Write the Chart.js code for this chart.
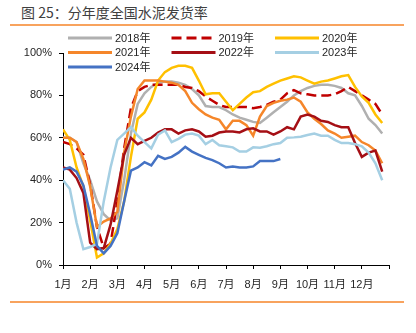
<!DOCTYPE html>
<html>
<head>
<meta charset="utf-8">
<script src="https://cdn.jsdelivr.net/npm/chart.js@4"></script>
<style>
  html, body { margin: 0; padding: 0; background: #fff; }
  #wrap { position: relative; width: 416px; height: 333px; }
  #title { position: absolute; left: 21px; top: 3px; font: 14px "Noto Sans CJK SC", sans-serif; color: #404040; line-height: 18px; white-space: nowrap; }
  .rule { position: absolute; left: 10px; width: 394px; height: 2px; background: #F8A35E; }
  canvas { position: absolute; left: 0; top: 0; }
</style>
</head>
<body>
<div id="wrap">
  <div id="title">图 25：分年度全国水泥发货率</div>
  <div class="rule" style="top:24px"></div>
  <div class="rule" style="top:301px"></div>
  <canvas id="chart" width="416" height="333"></canvas>
</div>
<script>
// month labels, one every 4 weeks on the x axis
const months = ["1月", "2月", "3月", "4月", "5月", "6月", "7月", "8月", "9月", "10月", "11月", "12月"];
const years = ["2018年", "2019年", "2020年", "2021年", "2022年", "2023年", "2024年"];

// weekly shipment rate (%)
const s2018 = [60,60,58,48,40,30,24,21,22,40,62,76,81,84,86,86.5,86.5,86,85,83,80,75,74.5,74.5,73,71,69.5,68.5,67.5,67,69.5,72,74.5,77,80,82,83.5,84.5,85,85,84.5,83.5,81,80,75,69,66,62];
const s2019 = [58,57,55,52,38,18,8,10,30,55,74,82,84,85,85,85,85,85,84,83.5,82,79.5,77.5,75.5,74.5,74.5,74.5,74.5,74,74.5,75.5,77,78,81,82.5,81,80.5,80,80,80,80.5,82,84,82,80,78,76,71];
const s2020 = [64,59,46,37,21,3.5,5.5,10,17,30,51,69,72,78,87,91,93,94,94,93,87,80.5,81,81,77,73,76,79,81.5,82,84,85.5,87,88,89,88.5,87,85.5,86.5,87,88,89,89.6,84,79.5,76.5,71,67];
const s2021 = [60,60,58,50,37,18,20.5,22,25,53,70,83,87,87,87,86.5,86,85,82,76.5,73.5,71,69.5,68.5,64,68,68,66,61,70,75,76.5,77.5,78,79,77,72,69,66.5,63.5,62,60,60.5,61,58,56.5,54,48];
const s2022 = [46,45,41,34,10.5,7.5,8,19,35,52,60,57,58.5,60,62.5,64,64,62,63.5,64,63,60.5,61,62.5,63,63,62.5,64,64.5,63,63,61.5,63,65,64,70,71,70,68,67.5,66,65,65,57.5,51,53,54,44];
const s2023 = [40,36,20,7.5,8.5,10,30,46,59,62,65,61,58,55,61.5,63.5,58,59.5,61.5,62,61,57,59,56.5,56,55.5,53.5,53.5,55.5,55.3,56,57,57.5,60,60.2,60.5,61.3,62,61,61,59,57.5,57.5,57,56,53,48,40];
const s2024 = [45,46,44,37.5,24,9,5.5,9,15,30,44.5,46,48.5,47,51.5,50,51,53,55.7,53.5,52,50.5,49.5,48,46,46.5,46,46,46.5,49,49,49,50];

const series = [s2018, s2019, s2020, s2021, s2022, s2023, s2024];
const colors = ["#B0B0B0", "#C00000", "#FFC000", "#F5862A", "#A50F15", "#A5CFE3", "#4472C4"];

const textColor = "#262626";
const tickFont = { family: '"Liberation Sans", "Noto Sans CJK SC", sans-serif', size: 11 };

// legend drawn as a 3-column grid inside the plot, like the original
const gridLegend = {
  id: "gridLegend",
  afterDatasetsDraw(chart) {
    const ctx = chart.ctx;
    ctx.save();
    ctx.font = '11px "Liberation Sans", "Noto Sans CJK SC", sans-serif';
    ctx.textBaseline = "middle";
    chart.data.datasets.forEach((ds, i) => {
      const x = 68 + (i % 3) * 103.5;
      const y = 38 + Math.floor(i / 3) * 14.5;
      ctx.strokeStyle = ds.borderColor;
      ctx.lineWidth = 3;
      ctx.setLineDash(ds.borderDash || []);
      ctx.beginPath();
      ctx.moveTo(x, y);
      ctx.lineTo(x + 44, y);
      ctx.stroke();
      ctx.setLineDash([]);
      ctx.fillStyle = textColor;
      ctx.fillText(ds.label, x + 47, y + 0.5);
    });
    ctx.restore();
  }
};

const datasets = series.map((vals, i) => ({
  label: years[i],
  data: vals.map((v, w) => ({ x: w, y: v })),
  borderColor: colors[i],
  borderWidth: 2.5,
  borderDash: i === 1 ? [10, 5] : [],
  order: series.length - i, // later years on top
  fill: false
}));

new Chart(document.getElementById("chart"), {
  type: "line",
  data: { datasets },
  options: {
    responsive: false,
    animation: false,
    layout: { padding: { left: 0, top: 53, right: 27, bottom: 28 } },
    elements: { point: { radius: 0 }, line: { tension: 0 } },
    plugins: { legend: { display: false }, tooltip: { enabled: false } },
    scales: {
      x: {
        type: "linear",
        min: 0,
        max: 48,
        afterFit: (s) => { s.height = 40; },
        ticks: {
          stepSize: 4,
          autoSkip: false,
          maxRotation: 0,
          padding: 9,
          color: textColor,
          font: tickFont,
          callback: (v) => (v < 48 ? months[v / 4] : "")
        },
        grid: { drawOnChartArea: false, tickLength: 4, color: "#000" },
        border: { color: "#000", width: 1 }
      },
      y: {
        min: 0,
        max: 100,
        afterFit: (s) => { s.width = 63; },
        ticks: {
          stepSize: 20,
          padding: 7,
          color: textColor,
          font: tickFont,
          callback: (v) => v + "%"
        },
        grid: { drawOnChartArea: false, tickLength: 4, color: "#000" },
        border: { color: "#000", width: 1 }
      }
    }
  },
  plugins: [gridLegend]
});
</script>
</body>
</html>
